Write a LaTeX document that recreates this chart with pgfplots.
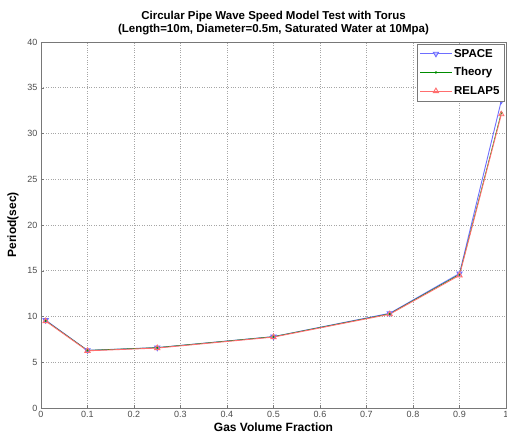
\documentclass[border=0pt]{standalone}
\usepackage{pgfplots}
\pgfplotsset{compat=1.18}
\usepackage{fontspec}
\setmainfont{Liberation Sans}
\definecolor{spc}{RGB}{110,110,255}
\definecolor{thy}{RGB}{0,140,0}
\definecolor{rel}{RGB}{255,110,110}
\definecolor{axg}{RGB}{120,120,120}
\begin{document}
\begin{tikzpicture}
\begin{axis}[
  scale only axis, width=465pt, height=366pt,
  xmin=0, xmax=1, ymin=0, ymax=40,
  xtick={0,0.1,...,1}, ytick={0,5,...,40},
  xticklabels={0,0.1,0.2,0.3,0.4,0.5,0.6,0.7,0.8,0.9,1},
  /pgf/number format/assume math mode=true,
  tick label style={font=\fontsize{9}{10}\selectfont, text=black!70},
  axis line style={axg},
  major tick style={axg},
  tick align=inside, major tick length=3pt,
  xtick pos=bottom, ytick pos=left,
  grid=major, grid style={dotted, gray!70, line width=0.6pt},
  title style={font=\bfseries\fontsize{11.5}{13}\selectfont, align=center, yshift=-2pt},
  title={Circular Pipe Wave Speed Model Test with Torus\\(Length=10m, Diameter=0.5m, Saturated Water at 10Mpa)},
  xlabel={\bfseries Gas Volume Fraction},
  ylabel={\bfseries Period(sec)},
  label style={font=\bfseries\fontsize{12}{13}\selectfont},
  xlabel style={yshift=2pt},
  ylabel style={yshift=2pt},
  legend style={font=\bfseries\fontsize{11.5}{12}\selectfont, draw=axg, row sep=5pt, inner sep=3pt,
     at={(0.997,0.995)}, anchor=north east},
  legend cell align=left,
  legend image code/.code={
    \draw[mark repeat=2,mark phase=2,#1] plot coordinates {(0cm,0cm) (0.55cm,0cm) (1.1cm,0cm)};},
]
\addplot[spc, line width=0.9pt, mark=triangle*, mark options={rotate=180, fill=spc!40, draw=spc}, mark size=3pt]
  coordinates {(0.01,9.6) (0.1,6.3) (0.25,6.6) (0.5,7.8) (0.75,10.35) (0.9,14.7) (0.99,33.6)};
\addlegendentry{SPACE}
\addplot[thy, line width=0.6pt, mark=*, mark size=0.9pt]
  coordinates {(0.01,9.55) (0.1,6.3) (0.25,6.6) (0.5,7.8) (0.75,10.3) (0.9,14.6) (0.99,32.3)};
\addlegendentry{Theory}
\addplot[rel, line width=0.9pt, mark=triangle, mark options={draw=rel}, mark size=3pt]
  coordinates {(0.01,9.5) (0.1,6.25) (0.25,6.55) (0.5,7.75) (0.75,10.25) (0.9,14.5) (0.99,32.1)};
\addlegendentry{RELAP5}
\end{axis}
\pgfresetboundingbox
\path[use as bounding box] (-41pt,-31pt) rectangle (466pt,408pt);
\end{tikzpicture}
\end{document}
